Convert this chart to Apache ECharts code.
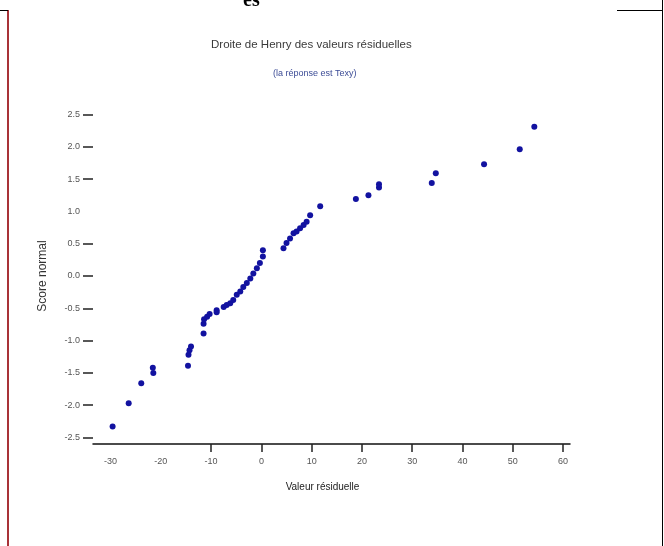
<!DOCTYPE html>
<html>
<head>
<meta charset="utf-8">
<script src="https://cdn.jsdelivr.net/npm/echarts@6/dist/echarts.min.js"></script>
<style>
  html, body { margin: 0; padding: 0; background: #ffffff; }
  #chart { width: 664px; height: 546px; }
</style>
</head>
<body>
<div id="chart"></div>
<script>
// Residual values (x) and their normal scores (y)
const residuals = [
  -29.6, -26.4, -23.9, -21.6, -21.5, -14.6, -14.5, -14.3, -14.0, -11.5,
  -11.5, -11.4, -10.8, -10.3, -8.9, -8.9, -7.5, -6.9, -6.2, -5.6,
  -4.9, -4.2, -3.6, -2.9, -2.2, -1.6, -0.9, -0.3, 0.3, 0.3,
  4.4, 5.0, 5.7, 6.4, 7.0, 7.7, 8.4, 9.0, 9.7, 11.7,
  18.8, 21.3, 23.4, 23.4, 33.9, 34.7, 44.3, 51.4, 54.3
];
const normalScores = [
  -2.33, -1.97, -1.66, -1.42, -1.50, -1.39, -1.22, -1.15, -1.09, -0.89,
  -0.74, -0.67, -0.63, -0.59, -0.53, -0.56, -0.48, -0.45, -0.42, -0.37,
  -0.29, -0.24, -0.17, -0.11, -0.04, 0.04, 0.12, 0.20, 0.30, 0.40,
  0.43, 0.51, 0.58, 0.66, 0.69, 0.74, 0.79, 0.84, 0.94, 1.08,
  1.19, 1.25, 1.37, 1.42, 1.44, 1.59, 1.73, 1.96, 2.31
];

// Axis tick labels
const xTickLabels = [-30, -20, -10, 0, 10, 20, 30, 40, 50, 60];
const xTickMarks = [-10, 0, 10, 20, 30, 40, 50, 60];
const yTickLabels = [2.5, 2.0, 1.5, 1.0, 0.5, 0.0, -0.5, -1.0, -1.5, -2.0, -2.5];
const yTickMarks = [2.5, 2.0, 1.5, 0.5, 0.0, -0.5, -1.0, -1.5, -2.0, -2.5];

const points = residuals.map((r, i) => [r, normalScores[i]]);

const chart = echarts.init(document.getElementById('chart'));
const labelFont = '"Liberation Sans", Arial, sans-serif';

chart.setOption({
  backgroundColor: '#ffffff',
  animation: false,
  title: [
    {
      text: 'Droite de Henry des valeurs résiduelles',
      left: 206, top: 34,
      textStyle: { fontFamily: labelFont, fontSize: 11.5, fontWeight: 'normal', color: '#3a3a3a' }
    },
    {
      text: '(la réponse est Texy)',
      left: 268, top: 64,
      textStyle: { fontFamily: labelFont, fontSize: 9, fontWeight: 'normal', color: '#3c4c96' }
    }
  ],
  grid: { left: 93, right: 94, top: 108, bottom: 102 },
  xAxis: {
    type: 'value',
    min: -33.5, max: 61.4,
    name: 'Valeur résiduelle',
    nameLocation: 'middle',
    nameGap: 38,
    nameTextStyle: { fontFamily: labelFont, fontSize: 10, color: '#222', padding: [0, 18, 0, 0] },
    axisLine: { show: true, onZero: false, lineStyle: { color: '#111', width: 1.5 } },
    axisTick: { show: true, customValues: xTickMarks, length: 8, lineStyle: { color: '#222', width: 1.5 } },
    axisLabel: {
      customValues: xTickLabels, margin: 13,
      fontFamily: labelFont, fontSize: 9, color: '#555'
    },
    splitLine: { show: false }
  },
  yAxis: {
    type: 'value',
    min: -2.6, max: 2.6,
    name: 'Score normal',
    nameLocation: 'middle',
    nameGap: 44,
    nameTextStyle: { fontFamily: labelFont, fontSize: 12, color: '#333' },
    axisLine: { show: false, onZero: false },
    axisTick: { show: true, customValues: yTickMarks, length: 10, lineStyle: { color: '#222', width: 1.5 } },
    axisLabel: {
      customValues: yTickLabels, margin: 13,
      fontFamily: labelFont, fontSize: 9, color: '#555',
      formatter: v => v.toFixed(1)
    },
    splitLine: { show: false }
  },
  series: [{
    type: 'scatter',
    data: points,
    symbol: 'circle',
    symbolSize: 6,
    itemStyle: { color: '#1212a0', opacity: 1 }
  }],
  graphic: [
    // page frame around the figure
    { type: 'line', shape: { x1: 8, y1: 10, x2: 8, y2: 546 }, style: { stroke: '#a83238', lineWidth: 2 } },
    { type: 'line', shape: { x1: 0, y1: 10.5, x2: 8, y2: 10.5 }, style: { stroke: '#000', lineWidth: 1 } },
    { type: 'line', shape: { x1: 662.5, y1: 0, x2: 662.5, y2: 546 }, style: { stroke: '#000', lineWidth: 1 } },
    { type: 'line', shape: { x1: 617, y1: 10.5, x2: 662, y2: 10.5 }, style: { stroke: '#000', lineWidth: 1 } },
    {
      type: 'text', left: 243, top: -9,
      style: { text: 'es', fill: '#000', font: 'bold 20px "Liberation Serif", serif' }
    }
  ]
});
</script>
</body>
</html>
